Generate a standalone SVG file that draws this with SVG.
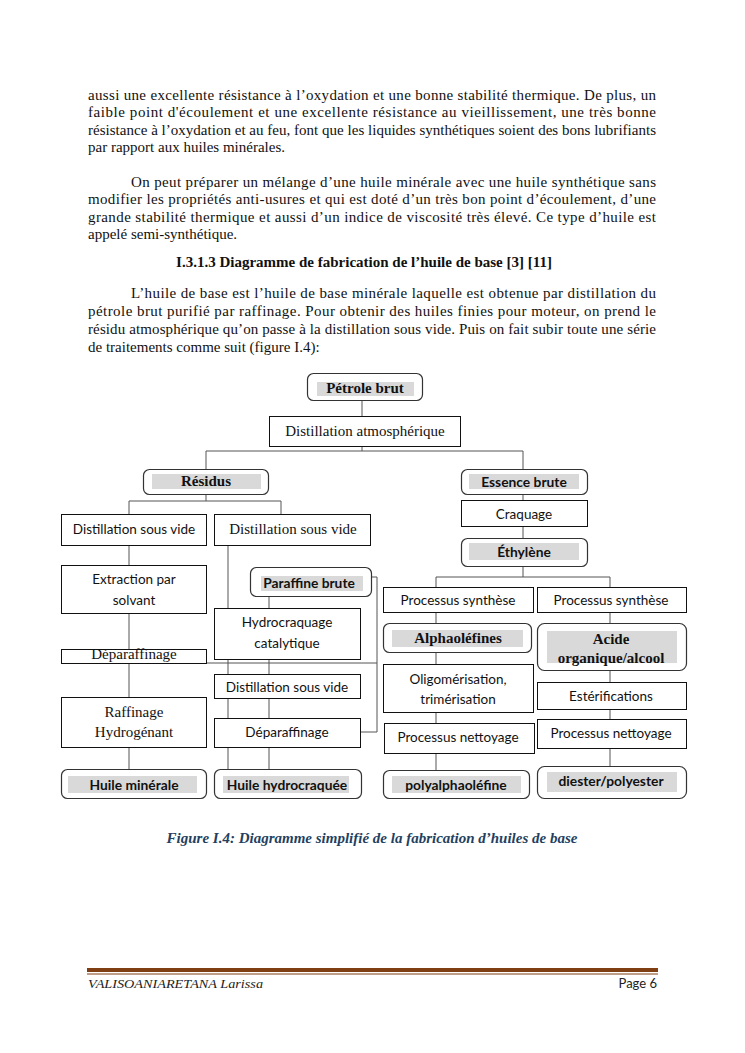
<svg xmlns="http://www.w3.org/2000/svg" width="745" height="1053" viewBox="0 0 745 1053">
<style>
.body{font-family:"Liberation Serif","Times New Roman",serif;font-size:15px;fill:#111}
.hd{font-family:"Liberation Serif","Times New Roman",serif;font-size:15px;font-weight:bold;fill:#111}
.box{fill:#fff;stroke:#111;stroke-width:1}
.rbox{fill:#fff;stroke:#333;stroke-width:1.2}
.gray{fill:#d9d9d9}
.ser{font-family:"Liberation Serif","Times New Roman",serif;font-size:15px;fill:#111;text-anchor:middle}
.serb{font-family:"Liberation Serif","Times New Roman",serif;font-size:15px;font-weight:bold;fill:#111;text-anchor:middle}
.san{font-family:Lato,"Liberation Sans",sans-serif;font-size:13.5px;fill:#111;text-anchor:middle}
.sanb{font-family:Lato,"Liberation Sans",sans-serif;font-size:13.8px;font-weight:bold;fill:#111;text-anchor:middle}
.con{fill:none;stroke:#555;stroke-width:1}
.cap{font-family:"Liberation Serif","Times New Roman",serif;font-size:15px;font-weight:bold;font-style:italic;fill:#243f60;text-anchor:middle}
</style>
<rect width="745" height="1053" fill="#fff"/>
<g id="text">
<text class="body" x="88" y="100" textLength="568" lengthAdjust="spacing">aussi une excellente résistance à l’oxydation et une bonne stabilité thermique. De plus, un</text>
<text class="body" x="88" y="117" textLength="568" lengthAdjust="spacing">faible point d'écoulement et une excellente résistance au vieillissement, une très bonne</text>
<text class="body" x="88" y="135" textLength="568" lengthAdjust="spacing">résistance à l’oxydation et au feu, font que les liquides synthétiques soient des bons lubrifiants</text>
<text class="body" x="88" y="152">par rapport aux huiles minérales.</text>
<text class="body" x="131" y="187" textLength="525" lengthAdjust="spacing">On peut préparer un mélange d’une huile minérale avec une huile synthétique sans</text>
<text class="body" x="88" y="204" textLength="568" lengthAdjust="spacing">modifier les propriétés anti-usures et qui est doté d’un très bon point d’écoulement, d’une</text>
<text class="body" x="88" y="222" textLength="568" lengthAdjust="spacing">grande stabilité thermique et aussi d’un indice de viscosité très élevé. Ce type d’huile est</text>
<text class="body" x="88" y="239">appelé semi-synthétique.</text>
<text class="hd" x="364" y="267" text-anchor="middle">I.3.1.3 Diagramme de fabrication de l’huile de base [3] [11]</text>
<text class="body" x="131" y="298" textLength="525" lengthAdjust="spacing">L’huile de base est l’huile de base minérale laquelle est obtenue par distillation du</text>
<text class="body" x="88" y="316" textLength="568" lengthAdjust="spacing">pétrole brut purifié par raffinage. Pour obtenir des huiles finies pour moteur, on prend le</text>
<text class="body" x="88" y="334" textLength="568" lengthAdjust="spacing">résidu atmosphérique qu’on passe à la distillation sous vide. Puis on fait subir toute une série</text>
<text class="body" x="88" y="352">de traitements comme suit (figure I.4):</text>
<text class="cap" x="372" y="843">Figure I.4: Diagramme simplifié de la fabrication d’huiles de base</text>
</g>
<g id="connectors">
<path class="con" d="M362 401V416M362 446V451M206 451H523M206 451V469M523 451V469"/>
<path class="con" d="M206 494V501M129 501H281M129 501V514M281 501V514"/>
<path class="con" d="M523 494V500M523 526V538M523 566V577M436 577H610M436 577V587M610 577V587"/>
<path class="con" d="M129 545V565M129 613V649M129 664V697M129 747V769"/>
<path class="con" d="M228 545V608M269 596V608M228 659V674M269 659V674M228 698V718M269 698V718M228 747V769M269 747V769"/>
<path class="con" d="M371 577H377V732H360M207 663H377"/>
<path class="con" d="M436 612V623M436 652V664M436 712V723M436 753V770M610 612V623M610 670V682M610 709V719M610 748V766"/>
</g>
<g id="petrole"><rect class="rbox" x="307.5" y="373.5" width="115" height="27" rx="6"/><rect class="gray" x="317" y="382" width="97" height="14"/><text class="serb" x="365" y="393">Pétrole brut</text></g>
<g id="distatm"><rect class="box" x="269.5" y="416.5" width="191" height="30"/><text class="ser" x="365" y="436">Distillation atmosphérique</text></g>
<g id="residus"><rect class="rbox" x="143.5" y="469.5" width="125" height="25" rx="6"/><rect class="gray" x="152" y="474" width="109" height="15"/><text class="serb" x="206" y="486">Résidus</text></g>
<g id="essence"><rect class="rbox" x="461.5" y="469.5" width="126" height="25" rx="6"/><rect class="gray" x="469" y="474" width="110" height="15"/><text class="sanb" x="524" y="487">Essence brute</text></g>
<g id="dsv1"><rect class="box" x="61.5" y="514.5" width="145" height="31"/><text class="san" x="134" y="534">Distillation sous vide</text></g>
<g id="dsv2"><rect class="box" x="214.5" y="514.5" width="156" height="31"/><text class="ser" x="293" y="534">Distillation sous vide</text></g>
<g id="craquage"><rect class="box" x="461.5" y="500.5" width="126" height="26"/><text class="san" x="524" y="519">Craquage</text></g>
<g id="ethylene"><rect class="rbox" x="461.5" y="538.5" width="126" height="28" rx="6"/><rect class="gray" x="469" y="543" width="110" height="17"/><text class="sanb" x="524" y="557">Éthylène</text></g>
<g id="extraction"><rect class="box" x="61.5" y="565.5" width="145" height="48"/><text class="san" x="134" y="584">Extraction par</text><text class="san" x="134" y="605">solvant</text></g>
<g id="paraffine"><rect class="rbox" x="250.5" y="567.5" width="121" height="29" rx="6"/><rect class="gray" x="261" y="576" width="102" height="15"/><text class="sanb" x="309" y="588">Paraffine brute</text></g>
<g id="ps1"><rect class="box" x="383.5" y="587.5" width="150" height="25"/><text class="san" x="458" y="605">Processus synthèse</text></g>
<g id="ps2"><rect class="box" x="537.5" y="587.5" width="149" height="25"/><text class="san" x="611" y="605">Processus synthèse</text></g>
<g id="hydrocraquage"><rect class="box" x="214.5" y="608.5" width="146" height="51"/><text class="san" x="287" y="627">Hydrocraquage</text><text class="san" x="287" y="648">catalytique</text></g>
<g id="alpha"><rect class="rbox" x="383.5" y="623.5" width="148" height="29" rx="6"/><rect class="gray" x="392" y="630" width="131" height="17"/><text class="serb" x="458" y="643">Alphaoléfines</text></g>
<g id="acide"><rect class="rbox" x="537.5" y="623.5" width="149" height="47" rx="7"/><rect class="gray" x="547" y="631" width="130" height="32"/><text class="serb" x="611" y="644">Acide</text><text class="serb" x="611" y="663">organique/alcool</text></g>
<g id="depar1"><rect class="box" x="61.5" y="649.5" width="145" height="14"/><text class="ser" x="134" y="659">Déparaffinage</text></g>
<g id="oligo"><rect class="box" x="383.5" y="664.5" width="150" height="48"/><text class="san" x="458" y="684">Oligomérisation,</text><text class="san" x="458" y="704">trimérisation</text></g>
<g id="dsv3"><rect class="box" x="214.5" y="674.5" width="146" height="24"/><text class="san" x="287" y="692">Distillation sous vide</text></g>
<g id="esterif"><rect class="box" x="537.5" y="682.5" width="149" height="27"/><text class="san" x="611" y="701">Estérifications</text></g>
<g id="raffinage"><rect class="box" x="61.5" y="697.5" width="145" height="50"/><text class="ser" x="134" y="717">Raffinage</text><text class="ser" x="134" y="737">Hydrogénant</text></g>
<g id="depar2"><rect class="box" x="214.5" y="718.5" width="146" height="29"/><text class="san" x="287" y="737">Déparaffinage</text></g>
<g id="pn1"><rect class="box" x="384.5" y="723.5" width="150" height="30"/><text class="san" x="458" y="742">Processus nettoyage</text></g>
<g id="pn2"><rect class="box" x="537.5" y="719.5" width="149" height="29"/><text class="san" x="611" y="738">Processus nettoyage</text></g>
<g id="huilemin"><rect class="rbox" x="61.5" y="769.5" width="145" height="29" rx="6"/><rect class="gray" x="68" y="776" width="129" height="17"/><text class="sanb" x="134" y="790">Huile minérale</text></g>
<g id="huilehydro"><rect class="rbox" x="214.5" y="769.5" width="147" height="29" rx="6"/><rect class="gray" x="223" y="776" width="126" height="17"/><text class="sanb" x="287" y="790">Huile hydrocraquée</text></g>
<g id="pao"><rect class="rbox" x="383.5" y="770.5" width="146" height="28" rx="6"/><rect class="gray" x="392" y="776" width="129" height="17"/><text class="sanb" x="456" y="790">polyalphaoléfine</text></g>
<g id="diester"><rect class="rbox" x="537.5" y="766.5" width="149" height="32" rx="7"/><rect class="gray" x="547" y="772" width="130" height="20"/><text class="sanb" x="611" y="786">diester/polyester</text></g>
<g id="footer">
<rect x="87" y="968" width="571" height="4" fill="#7f3f12"/>
<rect x="87" y="973.5" width="571" height="1" fill="#7f3f12"/>
<text x="88" y="988" font-family="Liberation Serif,serif" font-style="italic" font-size="13" fill="#222" textLength="175" lengthAdjust="spacingAndGlyphs">VALISOANIARETANA Larissa</text>
<text x="657" y="988" font-family="Lato,Liberation Sans,sans-serif" font-size="13" fill="#222" text-anchor="end">Page 6</text>
</g>
</svg>
